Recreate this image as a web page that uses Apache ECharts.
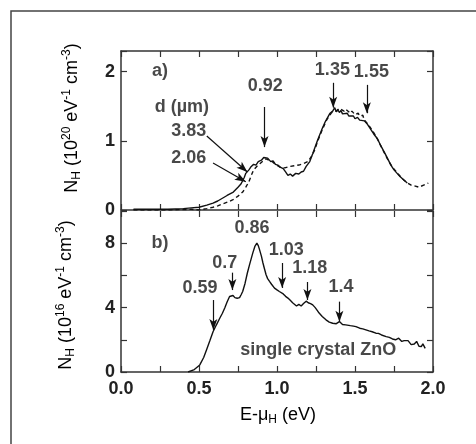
<!DOCTYPE html>
<html><head><meta charset="utf-8">
<script src="https://cdn.jsdelivr.net/npm/echarts@6/dist/echarts.min.js"></script>
<style>html,body{margin:0;padding:0;background:#fff}#c{width:476px;height:444px}</style>
</head><body><div id="c"></div>
<script>
// ---- data (x in eV, y in panel units) ----
const topSolid383 = [[0.08,0.01],[0.2,0.01],[0.3,0.01],[0.4,0.02],[0.45,0.03],[0.5,0.04],[0.55,0.07],[0.59,0.10],[0.62,0.13],[0.65,0.17],[0.68,0.21],[0.72,0.26],[0.75,0.33],[0.77,0.38],[0.79,0.47],[0.80,0.53],[0.82,0.58],[0.835,0.63],[0.85,0.66],[0.865,0.65],[0.88,0.70],[0.90,0.72],[0.915,0.76],[0.925,0.78],[0.94,0.75],[0.96,0.70],[0.975,0.71],[0.99,0.66],[1.005,0.65],[1.02,0.62],[1.04,0.60],[1.055,0.55],[1.07,0.50],[1.085,0.52],[1.10,0.49],[1.12,0.53],[1.14,0.52],[1.155,0.55],[1.17,0.56],[1.187,0.63],[1.21,0.70],[1.23,0.82],[1.26,1.01],[1.29,1.18],[1.31,1.28],[1.325,1.34],[1.34,1.40],[1.357,1.43],[1.37,1.48],[1.38,1.42],[1.39,1.45],[1.40,1.41],[1.41,1.44],[1.42,1.39],[1.43,1.41],[1.45,1.40],[1.46,1.36],[1.47,1.37],[1.49,1.36],[1.50,1.32],[1.516,1.34],[1.53,1.30],[1.54,1.31],[1.56,1.29],[1.58,1.24],[1.60,1.17],[1.62,1.10],[1.644,1.03],[1.665,0.93],[1.687,0.84],[1.71,0.74],[1.73,0.65],[1.75,0.58],[1.77,0.53],[1.79,0.48],[1.815,0.43],[1.835,0.39]];
const topDashed206 = [[0.08,0.0],[0.3,0.0],[0.45,0.01],[0.5,0.0],[0.55,0.02],[0.59,0.04],[0.62,0.06],[0.654,0.09],[0.69,0.12],[0.718,0.15],[0.75,0.20],[0.78,0.26],[0.80,0.33],[0.82,0.41],[0.835,0.50],[0.85,0.58],[0.87,0.63],[0.89,0.67],[0.91,0.71],[0.93,0.74],[0.95,0.72],[0.97,0.70],[0.99,0.66],[1.02,0.62],[1.05,0.61],[1.08,0.63],[1.11,0.64],[1.14,0.65],[1.17,0.67],[1.197,0.70],[1.22,0.77],[1.24,0.86],[1.26,0.99],[1.29,1.16],[1.32,1.31],[1.35,1.41],[1.38,1.43],[1.40,1.47],[1.41,1.45],[1.43,1.43],[1.44,1.46],[1.47,1.40],[1.48,1.43],[1.50,1.38],[1.52,1.40],[1.53,1.36],[1.55,1.37],[1.56,1.30],[1.59,1.22],[1.62,1.12],[1.65,1.00],[1.68,0.86],[1.71,0.73],[1.74,0.62],[1.77,0.54],[1.80,0.46],[1.83,0.40],[1.86,0.36],[1.88,0.35],[1.91,0.33],[1.94,0.36],[1.97,0.39]];
const bottomZnO = [[0.43,0],[0.47,0.15],[0.505,0.44],[0.53,0.9],[0.548,1.37],[0.57,1.95],[0.59,2.5],[0.61,2.9],[0.633,3.34],[0.65,3.65],[0.665,3.97],[0.68,4.35],[0.696,4.69],[0.705,4.8],[0.718,4.75],[0.73,4.62],[0.745,4.58],[0.76,4.62],[0.77,4.8],[0.78,5.0],[0.795,5.5],[0.81,6.15],[0.825,6.7],[0.845,7.4],[0.858,7.8],[0.871,8.0],[0.88,7.85],[0.888,7.6],[0.90,7.2],[0.91,6.77],[0.92,6.4],[0.93,6.04],[0.94,5.8],[0.952,5.63],[0.965,5.45],[0.975,5.35],[0.984,5.21],[1.0,5.1],[1.015,5.0],[1.027,4.9],[1.04,4.85],[1.055,4.7],[1.07,4.59],[1.085,4.45],[1.10,4.3],[1.11,4.24],[1.125,4.1],[1.14,4.2],[1.155,4.1],[1.17,4.25],[1.187,4.4],[1.20,4.3],[1.215,4.25],[1.229,4.17],[1.245,4.0],[1.26,3.8],[1.27,3.66],[1.29,3.45],[1.314,3.24],[1.335,3.1],[1.357,3.03],[1.38,3.0],[1.40,3.13],[1.42,2.95],[1.44,2.93],[1.47,2.88],[1.49,2.85],[1.506,2.82],[1.53,2.72],[1.55,2.68],[1.57,2.62],[1.59,2.55],[1.61,2.5],[1.634,2.41],[1.65,2.4],[1.67,2.3],[1.70,2.2],[1.72,2.15],[1.74,2.05],[1.76,2.0],[1.78,2.1],[1.80,1.9],[1.815,1.95],[1.826,1.85],[1.84,1.95],[1.86,1.7],[1.88,1.74],[1.895,1.9],[1.91,1.6],[1.925,1.58],[1.935,1.75],[1.95,1.47]];

// annotation texts [text, x, y]
const topLabels = [['a)',0.25,2.01],['0.92',0.925,1.79],['1.35',1.355,2.03],['1.55',1.605,2.0],['d (µm)',0.39,1.49],['3.83',0.435,1.14],['2.06',0.435,0.75]];
const topArrows = [[0.92,1.49,0.92,0.91],[1.36,1.84,1.36,1.48],[1.576,1.81,1.576,1.40],[0.55,1.07,0.81,0.55],[0.59,0.68,0.80,0.41]];
const bottomLabels = [['b)',0.25,8.0],['0.86',0.84,8.94],['1.03',1.06,7.58],['1.18',1.21,6.46],['1.4',1.41,5.26],['0.7',0.665,6.75],['0.59',0.507,5.2],['single crystal ZnO',1.265,1.37]];
const bottomArrows = [[0.592,4.47,0.592,2.61],[0.714,6.17,0.714,5.09],[1.033,6.77,1.033,5.22],[1.195,5.59,1.195,4.47],[1.40,4.37,1.40,3.12]];

const FONT = 'Liberation Sans, Arial, sans-serif';
const AX = '#333';
const INK = '#111';
const chart = echarts.init(document.getElementById('c'));

const rich = {
  n:{fontSize:18,lineHeight:22,verticalAlign:'middle',fontFamily:FONT,color:'#222'},
  s:{fontSize:12,lineHeight:12,verticalAlign:'bottom',fontFamily:FONT,color:'#222'},
  p:{fontSize:12,lineHeight:12,verticalAlign:'top',fontFamily:FONT,color:'#222'}
};

function xAx(grid, pos, opts){
  return Object.assign({
    type:'value', gridIndex:grid, position:pos, min:0, max:2, interval:0.5,
    axisLine:{show:true,onZero:false,lineStyle:{color:AX,width:1.5}},
    axisTick:{show:true,inside:true,length:6,lineStyle:{color:AX,width:1.2}},
    minorTick:{show:true,splitNumber:2,length:6,lineStyle:{color:AX,width:1.2}},
    axisLabel:{show:false}, splitLine:{show:false}, minorSplitLine:{show:false}
  }, opts||{});
}
function yAx(grid, pos, max, interval, labelStep, showLabel){
  return {
    type:'value', gridIndex:grid, position:pos, min:0, max:max, interval:interval,
    axisLine:{show:true,onZero:false,lineStyle:{color:AX,width:1.5}},
    axisTick:{show:true,inside:true,length:6,lineStyle:{color:AX,width:1.2}},
    axisLabel:{show:showLabel, margin:6, fontSize:18, fontWeight:'bold', fontFamily:FONT, color:'#222',
      formatter:function(v){ return (Math.abs(v/labelStep - Math.round(v/labelStep))<1e-6) ? String(Math.round(v)) : ''; }},
    splitLine:{show:false}
  };
}
function labelSeries(xi, yi, labels){
  return {
    type:'scatter', xAxisIndex:xi, yAxisIndex:yi, symbolSize:1, silent:true,
    itemStyle:{color:'rgba(0,0,0,0)'},
    data: labels.map(l=>({name:l[0], value:[l[1],l[2]]})),
    label:{show:true, position:'inside', formatter:p=>p.name, fontSize:18, fontWeight:'bold', fontFamily:FONT, color:'#1a1a1a'}
  };
}
function arrowMarks(arrows){
  return {silent:true, symbol:['none','arrow'], symbolSize:10, label:{show:false},
    itemStyle:{color:INK}, emphasis:{disabled:true},
    lineStyle:{color:INK,width:1.2,type:'solid'}, animation:false,
    data: arrows.map(a=>[{coord:[a[0],a[1]], symbol:'none'},{coord:[a[2],a[3]], symbol:'arrow', symbolSize:[6,11]}])};
}

chart.setOption({
  animation:false,
  backgroundColor:'#fff',
  grid:[{left:121,top:51,width:312,height:159},{left:121,top:211,width:312,height:161}],
  xAxis:[
    xAx(0,'bottom'),
    xAx(0,'top'),
    xAx(1,'bottom',{axisLabel:{show:true,margin:8,fontSize:18,fontWeight:'bold',fontFamily:FONT,color:'#222',formatter:v=>v.toFixed(1)}}),
    xAx(1,'top',{axisLine:{show:false,onZero:false}})
  ],
  yAxis:[
    yAx(0,'left',2.3,1,1,true),
    yAx(0,'right',2.3,1,1,false),
    yAx(1,'left',10,2,4,true),
    yAx(1,'right',10,2,4,false)
  ],
  graphic:[
    {type:'rect', z:-10, shape:{x:11,y:11,width:520,height:520}, style:{fill:'none',stroke:'#444',lineWidth:1.5}},
    {type:'text', x:72, y:118, rotation:Math.PI/2,
      style:{text:'{n|N}{s|H}{n| (10}{p|20}{n| eV}{p|-1}{n| cm}{p|-3}{n|)}', rich:rich, align:'center', verticalAlign:'middle'}},
    {type:'text', x:66, y:295, rotation:Math.PI/2,
      style:{text:'{n|N}{s|H}{n| (10}{p|16}{n| eV}{p|-1}{n| cm}{p|-3}{n|)}', rich:rich, align:'center', verticalAlign:'middle'}},
    {type:'text', x:278, y:415,
      style:{text:'{n|E-μ}{s|H}{n| (eV)}', rich:rich, align:'center', verticalAlign:'middle'}}
  ],
  series:[
    {type:'line', xAxisIndex:0, yAxisIndex:0, data:topSolid383, showSymbol:false, symbol:'none',
      itemStyle:{color:INK}, lineStyle:{color:INK,width:1.4}, markLine:arrowMarks(topArrows)},
    {type:'line', xAxisIndex:0, yAxisIndex:0, data:topDashed206, showSymbol:false, symbol:'none',
      itemStyle:{color:INK}, lineStyle:{color:INK,width:1.4,type:[4,3]}},
    {type:'line', xAxisIndex:2, yAxisIndex:2, data:bottomZnO, showSymbol:false, symbol:'none',
      itemStyle:{color:INK}, lineStyle:{color:INK,width:1.4}, markLine:arrowMarks(bottomArrows)},
    labelSeries(0,0,topLabels),
    labelSeries(2,2,bottomLabels)
  ]
});
</script>
</body></html>
